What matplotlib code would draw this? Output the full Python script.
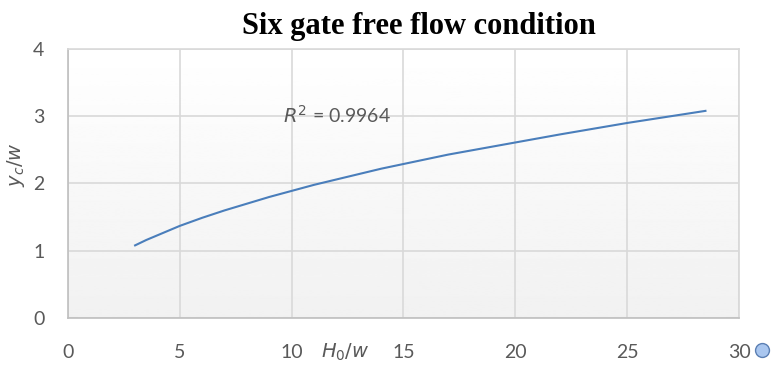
import numpy as np
import matplotlib.pyplot as plt
from matplotlib.lines import Line2D

# values
h0_w = [3, 3.5, 4, 5, 6, 7, 8, 9, 10, 11, 12, 13, 14, 15, 16, 17, 18, 20, 22, 25, 28.5]
yc_w = [1.08, 1.16, 1.23, 1.37, 1.49, 1.60, 1.70, 1.80, 1.89, 1.98, 2.06, 2.14, 2.22,
        2.29, 2.36, 2.43, 2.49, 2.61, 2.73, 2.90, 3.08]
x_ticks = [0, 5, 10, 15, 20, 25, 30]
y_ticks = [0, 1, 2, 3, 4]

plt.rcParams['mathtext.fontset'] = 'dejavusans'
tick_font = 'Lato'
grey = '#595959'

fig = plt.figure(figsize=(7.77, 3.67), dpi=100)
ax = fig.add_axes([0.0875, 0.1335, 0.8636, 0.733])

# plot-area gradient (white at top, light grey at bottom)
grad = np.linspace(1.0, 0.945, 256).reshape(-1, 1)
ax.imshow(grad, extent=[0, 1, 0, 1], transform=ax.transAxes, cmap='gray',
          vmin=0, vmax=1, aspect='auto', zorder=0)

ax.plot(h0_w, yc_w, color='#4a7ebb', lw=1.5, zorder=3)

ax.set_xlim(0, 30)
ax.set_ylim(0, 4)
ax.set_xticks(x_ticks)
ax.set_yticks(y_ticks)
ax.grid(True, color='#d9d9d9', lw=1.2, zorder=1)
ax.set_axisbelow(True)
for s in ax.spines.values():
    s.set_color('#d9d9d9')
    s.set_linewidth(1.2)
ax.spines['bottom'].set_color('#bfbfbf')
ax.spines['left'].set_color('#bfbfbf')
ax.tick_params(length=0, labelsize=14, labelcolor=grey)
ax.tick_params(axis='x', pad=19)
ax.tick_params(axis='y', pad=17)
for lab in ax.get_xticklabels() + ax.get_yticklabels():
    lab.set_fontfamily(tick_font)

ax.set_title('Six gate free flow condition', fontfamily='Liberation Serif',
             fontweight='bold', fontsize=22, pad=11, x=0.523)

ax.text(9.6, 3.02, r'$R^2$ = 0.9964', fontsize=14, color=grey,
        fontfamily=tick_font, va='center', ha='left')
ax.text(0.006, 0.55, r'$y_c$/$w$', transform=fig.transFigure, rotation=90,
        fontsize=14, color=grey, va='center', ha='left')
ax.text(0.444, 0.04, r'$H_0$/$w$', transform=fig.transFigure,
        fontsize=14, color=grey, va='center', ha='center')

fig.add_artist(Line2D([0.9807], [0.046], transform=fig.transFigure, marker='o',
                      markersize=10, markerfacecolor='#a9c6ef',
                      markeredgecolor='#5b7fb3', markeredgewidth=1.0, lw=0))

fig.savefig('out.png', dpi=100)
